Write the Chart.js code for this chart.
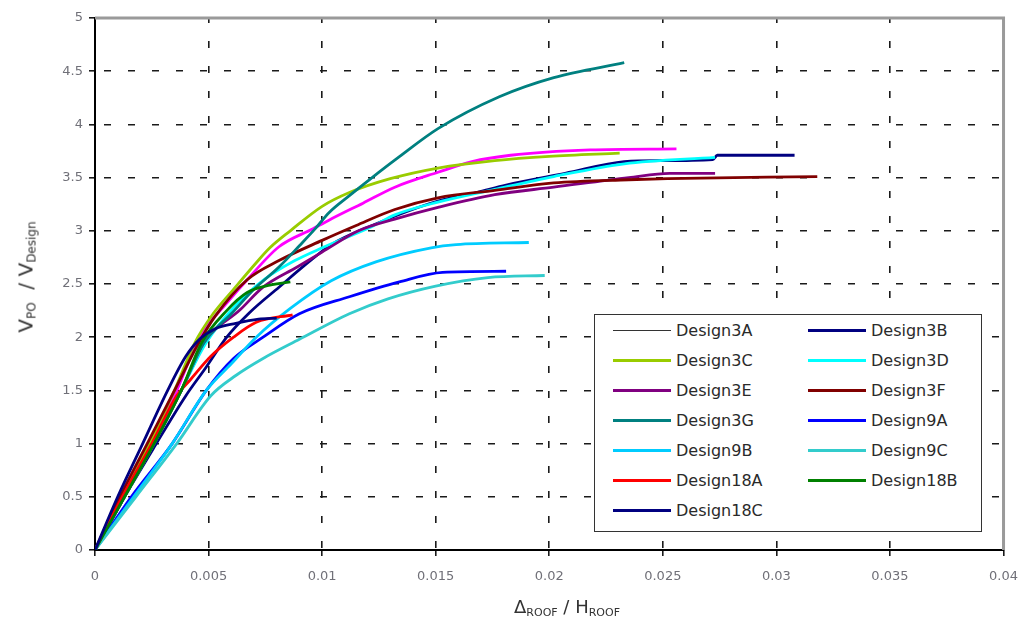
<!DOCTYPE html>
<html>
<head>
<meta charset="utf-8">
<script src="https://cdn.jsdelivr.net/npm/chart.js@4.4.1/dist/chart.umd.min.js"></script>
<style>
  html, body { margin: 0; padding: 0; background: #fff; }
  #wrap { position: relative; width: 1031px; height: 626px; }
  #grafico { position: absolute; left: 0; top: 0; }
  .titulo { position: absolute; font-family: "DejaVu Sans", sans-serif; color: #333; white-space: nowrap; }
  .titulo sub { font-size: 12px; vertical-align: -3px; }
  #tituloY { left: 26px; top: 277px; font-size: 20px; transform: translate(-50%, -50%) rotate(-90deg); }
  #tituloX { left: 567px; top: 607px; font-size: 18px; transform: translate(-50%, -50%); }
  #tituloX sub { font-size: 11px; }
  #leyenda {
    position: absolute; left: 594px; top: 314px; width: 388px; height: 218px;
    box-sizing: border-box; border: 1.5px solid #333; background: #fff;
    display: grid; grid-template-columns: 195px 175px; grid-auto-rows: 30px;
    padding: 0 0 0 18px;
    font-family: "DejaVu Sans", sans-serif; font-size: 16px; color: #2a2a2a;
  }
  .item { display: flex; align-items: center; }
  .muestra { display: inline-block; width: 58px; margin-right: 5px; }
</style>
</head>
<body>
<div id="wrap">
  <canvas id="grafico" width="1031" height="626"></canvas>
  <div class="titulo" id="tituloY">V<sub>PO</sub>&nbsp; / V<sub>Design</sub></div>
  <div class="titulo" id="tituloX">&Delta;<sub>ROOF</sub> / H<sub>ROOF</sub></div>
  <div id="leyenda"></div>
</div>
<script>
// Datos (deriva de techo, V_PO / V_Design)
const nombres = ['Design3A', 'Design3B', 'Design3C', 'Design3D', 'Design3E', 'Design3F', 'Design3G',
                 'Design9A', 'Design9B', 'Design9C', 'Design18A', 'Design18B', 'Design18C'];

const d3A_x = [0, 0.0012, 0.0025, 0.0036, 0.0046, 0.0058, 0.0067, 0.0081, 0.0096, 0.0103, 0.0118, 0.0132, 0.0151, 0.0166, 0.0183, 0.0218, 0.0256];
const d3A_y = [0, 0.5, 1.0, 1.5, 2.0, 2.32, 2.54, 2.85, 3.02, 3.10, 3.26, 3.41, 3.55, 3.65, 3.71, 3.76, 3.77];

const d3B_x = [0, 0.0013, 0.0027, 0.0040, 0.0049, 0.0058, 0.0068, 0.0081, 0.0096, 0.0104, 0.0122, 0.0151, 0.0168, 0.0181, 0.0207, 0.0233, 0.0249, 0.0272, 0.0274, 0.0308];
const d3B_y = [0, 0.5, 1.0, 1.45, 1.72, 2.0, 2.23, 2.47, 2.74, 2.87, 3.05, 3.28, 3.36, 3.43, 3.54, 3.65, 3.66, 3.67, 3.71, 3.71];

const d3C_x = [0, 0.0012, 0.0024, 0.0035, 0.0044, 0.0052, 0.0061, 0.0071, 0.0077, 0.0086, 0.0100, 0.0112, 0.0130, 0.0151, 0.0176, 0.0200, 0.0231];
const d3C_y = [0, 0.5, 1.0, 1.5, 1.95, 2.22, 2.45, 2.70, 2.84, 3.00, 3.23, 3.36, 3.49, 3.59, 3.66, 3.70, 3.73];

const d3D_x = [0, 0.0013, 0.0026, 0.0038, 0.0049, 0.0062, 0.0075, 0.0088, 0.0100, 0.0122, 0.0132, 0.0151, 0.0176, 0.0202, 0.0233, 0.0273];
const d3D_y = [0, 0.5, 1.0, 1.5, 1.95, 2.3, 2.55, 2.72, 2.84, 3.04, 3.15, 3.27, 3.39, 3.51, 3.63, 3.69];

const d3E_x = [0, 0.0013, 0.0026, 0.0038, 0.0048, 0.0064, 0.0074, 0.0089, 0.0100, 0.0116, 0.0132, 0.0151, 0.0176, 0.0202, 0.0235, 0.0253, 0.0273];
const d3E_y = [0, 0.5, 1.0, 1.5, 1.95, 2.26, 2.47, 2.66, 2.80, 3.0, 3.11, 3.22, 3.34, 3.41, 3.50, 3.54, 3.54];

const d3F_x = [0, 0.0011, 0.0023, 0.0035, 0.0045, 0.0053, 0.0067, 0.0081, 0.0100, 0.0115, 0.0132, 0.0151, 0.0176, 0.0202, 0.0235, 0.0252, 0.0318];
const d3F_y = [0, 0.5, 1.0, 1.5, 1.92, 2.2, 2.54, 2.72, 2.91, 3.05, 3.2, 3.31, 3.38, 3.45, 3.48, 3.49, 3.51];

const d3G_x = [0, 0.0013, 0.0026, 0.0038, 0.0048, 0.0060, 0.0070, 0.0081, 0.0090, 0.0097, 0.0103, 0.0112, 0.0122, 0.0133, 0.0151, 0.0178, 0.0202, 0.0233];
const d3G_y = [0, 0.5, 1.0, 1.5, 1.95, 2.22, 2.45, 2.66, 2.86, 3.02, 3.17, 3.33, 3.50, 3.68, 3.96, 4.26, 4.44, 4.58];

const d9A_x = [0, 0.0016, 0.0034, 0.0049, 0.0061, 0.0074, 0.0090, 0.0112, 0.0134, 0.0153, 0.0181];
const d9A_y = [0, 0.5, 1.0, 1.5, 1.8, 2.0, 2.22, 2.38, 2.52, 2.61, 2.62];

const d9B_x = [0, 0.0017, 0.0034, 0.0049, 0.0060, 0.0071, 0.0086, 0.0104, 0.0124, 0.0148, 0.0159, 0.0191];
const d9B_y = [0, 0.5, 1.0, 1.5, 1.75, 2.0, 2.27, 2.53, 2.71, 2.84, 2.87, 2.89];

const d9C_x = [0, 0.0018, 0.0036, 0.0051, 0.0062, 0.0074, 0.0090, 0.0112, 0.0129, 0.0150, 0.0173, 0.0198];
const d9C_y = [0, 0.5, 1.0, 1.45, 1.64, 1.80, 1.98, 2.22, 2.36, 2.48, 2.56, 2.58];

const d18A_x = [0, 0.0012, 0.0025, 0.0036, 0.0042, 0.0051, 0.0061, 0.0071, 0.0087];
const d18A_y = [0, 0.5, 1.0, 1.45, 1.6, 1.82, 2.0, 2.14, 2.21];

const d18B_x = [0, 0.0013, 0.0026, 0.0038, 0.0047, 0.0058, 0.0067, 0.0075, 0.0086];
const d18B_y = [0, 0.5, 1.0, 1.5, 1.95, 2.25, 2.42, 2.48, 2.52];

const d18C_x = [0, 0.0010, 0.0021, 0.0032, 0.0040, 0.0046, 0.0053, 0.0062, 0.0072, 0.0080];
const d18C_y = [0, 0.5, 1.0, 1.5, 1.82, 1.98, 2.08, 2.13, 2.17, 2.18];

// Ticks de los ejes
const ticksX = [0, 0.005, 0.01, 0.015, 0.02, 0.025, 0.03, 0.035, 0.04];
const ticksY = [0, 0.5, 1, 1.5, 2, 2.5, 3, 3.5, 4, 4.5, 5];

const seriesX = [d3A_x, d3B_x, d3C_x, d3D_x, d3E_x, d3F_x, d3G_x, d9A_x, d9B_x, d9C_x, d18A_x, d18B_x, d18C_x];
const seriesY = [d3A_y, d3B_y, d3C_y, d3D_y, d3E_y, d3F_y, d3G_y, d9A_y, d9B_y, d9C_y, d18A_y, d18B_y, d18C_y];

// Colores de las curvas y de la leyenda (en el original la leyenda de 3A es negra)
const colores = ['#FF00FF', '#000080', '#99CC00', '#00FFFF', '#800080', '#800000', '#008080',
                 '#0000FF', '#00CCFF', '#33CCCC', '#FF0000', '#008000', '#000080'];
const coloresLeyenda = ['#333333', '#000080', '#99CC00', '#00FFFF', '#800080', '#800000', '#008080',
                        '#0000FF', '#00CCFF', '#33CCCC', '#FF0000', '#008000', '#000080'];

// Plugin: borde gris arriba y a la derecha del área del gráfico
const bordeGris = {
  id: 'bordeGris',
  afterDraw(chart) {
    const { ctx, chartArea } = chart;
    ctx.save();
    ctx.strokeStyle = '#9a9a9a';
    ctx.lineWidth = 3;
    ctx.beginPath();
    ctx.moveTo(chartArea.left, chartArea.top);
    ctx.lineTo(chartArea.right, chartArea.top);
    ctx.lineTo(chartArea.right, chartArea.bottom);
    ctx.stroke();
    ctx.restore();
  }
};

// Plugin: leyenda HTML en dos columnas
const leyendaHtml = {
  id: 'leyendaHtml',
  afterUpdate(chart) {
    const cont = document.getElementById('leyenda');
    cont.innerHTML = '';
    chart.data.datasets.forEach((ds, i) => {
      const item = document.createElement('div');
      item.className = 'item';
      const muestra = document.createElement('span');
      muestra.className = 'muestra';
      muestra.style.height = (i === 0 ? 1 : 3) + 'px';
      muestra.style.background = coloresLeyenda[i];
      const texto = document.createElement('span');
      texto.textContent = ds.label;
      item.appendChild(muestra);
      item.appendChild(texto);
      cont.appendChild(item);
    });
  }
};

function initializeChart() {
  try {
    const canvas = document.getElementById('grafico');
    const ctx = canvas.getContext('2d');

    const datasets = nombres.map((nombre, i) => ({
      label: nombre,
      data: seriesX[i].map((x, j) => ({ x: x, y: seriesY[i][j] })),
      borderColor: colores[i],
      backgroundColor: colores[i],
      borderWidth: 2.8,
      pointRadius: 0,
      fill: false,
      cubicInterpolationMode: 'monotone',
      order: -i
    }));

    // Sin línea de cuadrícula en el eje ni en el borde superior/derecho
    const gridColor = (ultimo) => (c) => (c.index === 0 || c.index === ultimo) ? 'rgba(0,0,0,0)' : '#1a1a1a';

    return new Chart(ctx, {
      type: 'line',
      data: { datasets: datasets },
      options: {
        responsive: false,
        animation: false,
        devicePixelRatio: 1,
        layout: { padding: { left: 0, right: 25, top: 18, bottom: 0 } },
        plugins: {
          legend: { display: false },
          tooltip: { enabled: false }
        },
        scales: {
          x: {
            type: 'linear',
            min: 0,
            max: 0.04,
            afterFit: (s) => { s.height = 76; },
            afterBuildTicks: (s) => { s.ticks = ticksX.map(v => ({ value: v })); },
            ticks: {
              color: '#707078',
              padding: 13,
              font: { family: 'DejaVu Sans', size: 13 },
              maxRotation: 0,
              callback: (v) => String(Number(v.toFixed(3)))
            },
            grid: {
              color: gridColor(ticksX.length - 1),
              lineWidth: 1.6,
              tickColor: '#1a1a1a',
              tickBorderDash: [],
              tickLength: 6
            },
            border: { color: '#000', width: 2, dash: [7, 18], dashOffset: 2 }
          },
          y: {
            type: 'linear',
            min: 0,
            max: 5,
            afterFit: (s) => { s.width = 95; },
            afterBuildTicks: (s) => { s.ticks = ticksY.map(v => ({ value: v })); },
            ticks: {
              color: '#707078',
              padding: 6,
              font: { family: 'DejaVu Sans', size: 13 },
              callback: (v) => String(v)
            },
            grid: {
              color: gridColor(ticksY.length - 1),
              lineWidth: 1.6,
              tickColor: '#1a1a1a',
              tickBorderDash: [],
              tickLength: 6
            },
            border: { color: '#000', width: 2, dash: [7, 17], dashOffset: -8 }
          }
        }
      },
      plugins: [bordeGris, leyendaHtml]
    });
  } catch (error) {
    console.error('Error al inicializar el gráfico:', error);
    return null;
  }
}

initializeChart();
</script>
</body>
</html>
